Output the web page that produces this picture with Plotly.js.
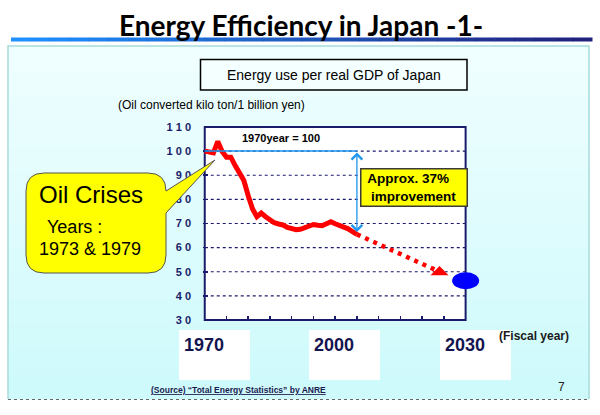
<!DOCTYPE html>
<html><head><meta charset="utf-8">
<script src="https://cdn.plot.ly/plotly-3.0.1.min.js"></script>
<style>html,body{margin:0;padding:0;background:#fff;}#chart{width:600px;height:415px;}</style>
</head><body><div id="chart"></div>
<script>
// ---------------- data ----------------
const years = [1970,1971,1972,1973,1974,1975,1976,1977,1978,1979,1980,1981,1982,1983,1984,1985,1986,1987,1988,1989,1990,1991,1992,1993,1994,1995,1996,1997,1998,1999,2000,2001,2002,2003,2004,2005];
const intensity = [100,99.6,99.3,104,99.8,97.5,97.5,94,91.2,87.8,81.5,76,72.8,74.3,72.8,71.5,70.3,69.8,69.4,68.4,67.8,67.4,67.6,68.2,68.9,69.6,69.3,69.1,69.9,70.7,69.9,69.1,68.8,67.8,66.6,65.5];
const projYears = [2005, 2024];
const projValues = [65.5, 50];
const targetYear = [2030];
const targetValue = [46.3];
const improveArrow = [100, 66.5];
const yTickVals = [30,40,50,60,70,80,90,100,110];
const yTickText = ['3 0','4 0','5 0','6 0','7 0','8 0','9 0','1 0 0','1 1 0'];
const yGridVals = [40,50,60,70,80,90,100];
const xLabelYears = [1970, 2000, 2030];
const xLabelText = ['1970','2000','2030'];

// ---------------- layout helpers ----------------
const W=600, H=415, ML=203, MR=117, MT=126, MB=94;
const PW=W-ML-MR, PH=H-MT-MB;
const PX = p => (p-ML)/PW;
const PY = p => (H-MB-p)/PH;
const P = (x,y) => PX(x)+','+PY(y);
const FONT = 'Liberation Sans, Arial, sans-serif';
const NAVY = '#1b1b6b';
const BLUE = '#1e96f0';
const X0 = years[0], X1 = targetYear[0];
const Y0 = yTickVals[0], Y1 = yTickVals[yTickVals.length-1];

const shapes = [];
// slide panel gradient
const pTop=46, pBot=399, nb=14;
for (let i=0;i<nb;i++){
  const t=i/(nb-1);
  const c=[239+(207-239)*t, 254+(250-254)*t, 254+(252-254)*t].map(Math.round);
  shapes.push({type:'rect',xref:'paper',yref:'paper',layer:'below',
    x0:PX(8),x1:PX(589),y0:PY(pTop+i*(pBot-pTop)/nb),y1:PY(pTop+(i+1)*(pBot-pTop)/nb+0.5),
    fillcolor:`rgb(${c[0]},${c[1]},${c[2]})`,line:{width:0}});
}
shapes.push({type:'path',xref:'paper',yref:'paper',layer:'below',
  path:`M ${P(8,399)} L ${P(8,46)} L ${P(589,46)} L ${P(589,399)}`,line:{color:'#a6dcdc',width:1.5}});
shapes.push({type:'line',xref:'paper',yref:'paper',layer:'below',x0:PX(8),x1:PX(590),y0:PY(399.5),y1:PY(399.5),line:{color:'#666',width:1,dash:'dot'}});
// title bar gradient
const ns=30;
for (let i=0;i<ns;i++){
  const t=i/(ns-1);
  const c=[30+(32-30)*t, 144+(32-144)*t, 255+(125-255)*t].map(Math.round);
  shapes.push({type:'rect',xref:'paper',yref:'paper',layer:'below',
    x0:PX(11+i*(581/ns)),x1:PX(11+(i+1)*(581/ns)+0.5),y0:PY(37.5),y1:PY(41.5),
    fillcolor:`rgb(${c[0]},${c[1]},${c[2]})`,line:{width:0}});
}
// subtitle box
shapes.push({type:'rect',xref:'paper',yref:'paper',layer:'below',x0:PX(200.5),x1:PX(467),y0:PY(59.5),y1:PY(90),
  fillcolor:'#f4ffff',line:{color:'#000',width:1.5}});
// plot area white + grid + frame
shapes.push({type:'rect',xref:'x',yref:'y',layer:'below',x0:X0,x1:X1,y0:Y0,y1:Y1,fillcolor:'#ffffff',line:{width:0}});
yGridVals.forEach(v=>shapes.push({type:'line',xref:'x',yref:'y',layer:'below',x0:X0,x1:X1,y0:v,y1:v,line:{color:NAVY,width:1.2,dash:'dot'}}));
shapes.push({type:'rect',xref:'x',yref:'y',layer:'below',x0:X0,x1:X1,y0:Y0,y1:Y1,line:{color:NAVY,width:2}});
// 1970 level reference line
shapes.push({type:'line',xref:'x',yref:'y',layer:'above',x0:years[0],x1:years[years.length-1],y0:intensity[0],y1:intensity[0],line:{color:BLUE,width:1.5}});
// projection arrow head
shapes.push({type:'path',xref:'x',yref:'y',layer:'above',xsizemode:'pixel',ysizemode:'pixel',
  xanchor:projYears[projYears.length-1],yanchor:projValues[projValues.length-1],
  path:'M -9,-3.6 L 9,-3.6 L 0,5.7 Z',fillcolor:'#ff0000',line:{width:0}});
// 2030 target ellipse
shapes.push({type:'circle',xref:'x',yref:'y',layer:'above',xsizemode:'pixel',ysizemode:'pixel',
  xanchor:targetYear[0],yanchor:targetValue[0],x0:-13.5,x1:13.5,y0:-8.5,y1:8.5,fillcolor:'#0000ff',line:{width:0}});
// callout
shapes.push({type:'path',xref:'paper',yref:'paper',layer:'above',
  path:`M ${P(44,173)} L ${P(148,173)} Q ${P(166,173)} ${P(166,191)} L ${P(215,160)} L ${P(166,213)} L ${P(166,255)} Q ${P(166,273)} ${P(148,273)} L ${P(44,273)} Q ${P(26,273)} ${P(26,255)} L ${P(26,191)} Q ${P(26,173)} ${P(44,173)} Z`,
  fillcolor:'#ffff00',line:{color:'#555',width:1}});

const txt = (text,x,y,size,opts={}) => Object.assign({text,x:PX(x),y:PY(y),xref:'paper',yref:'paper',showarrow:false,
  xanchor:'left',yanchor:'middle',font:{family:FONT,size,color:'#000'}},opts);

const annotations = [
  txt('Energy Efficiency in Japan -1-',300.5,24.5,28,{xanchor:'center',font:{family:'Lato, sans-serif',size:28,color:'#000',weight:'bold'}}),
  txt('Energy use per real GDP of Japan',333.5,74.5,14,{xanchor:'center'}),
  txt('(Oil converted kilo ton/1 billion yen)',116,105,12),
  txt('<b>1970year = 100</b>',240,138,11),
  txt('<b>\u00a0Approx. 37%<br>\u00a0\u00a0improvement</b>',414,187.8,13.5,{xanchor:'center',align:'left',bgcolor:'#ffff00',
     bordercolor:'#3a3a3a',borderwidth:1.5,borderpad:2,width:101,height:32}),
  txt('Oil Crises',37,194,24),
  txt('Years :',45,227,18),
  txt('1973 &amp; 1979',37,249,18),
  txt('<b><span style="text-decoration:underline">(Source) \u201cTotal Energy Statistics\u201d by ANRE</span></b>',149,390,8.5,{font:{family:FONT,size:8.5,color:'#1a1a50'}}),
  txt('7',561,387,12,{xanchor:'center',font:{family:FONT,size:12,color:'#222'}}),
  {x:years[years.length-1],y:improveArrow[1],ax:years[years.length-1],ay:improveArrow[0],xref:'x',yref:'y',axref:'x',ayref:'y',
   text:'',showarrow:true,arrowhead:4,startarrowhead:4,arrowside:'end+start',arrowsize:1.6,startarrowsize:1.6,arrowwidth:1.3,
   arrowcolor:BLUE,standoff:0,startstandoff:0}
];
xLabelYears.forEach((yr,i)=>annotations.push({text:'<b>'+xLabelText[i]+'</b>',x:yr,xref:'x',xanchor:'left',xshift:-26,
  y:PY(330),yref:'paper',yanchor:'top',showarrow:false,align:'left',valign:'top',bgcolor:'#ffffff',borderwidth:0,borderpad:5,
  width:61,height:40,font:{family:FONT,size:18,color:'#141450'}}));
annotations.push(txt('<b>(Fiscal year)</b>',497,336,12,{font:{family:FONT,size:12,color:'#1a1a1a'}}));

const traces = [
  {x:years,y:intensity,type:'scatter',mode:'lines',line:{color:'#ff0000',width:5},hoverinfo:'skip'},
  {x:projYears,y:projValues,type:'scatter',mode:'lines',line:{color:'#ff0000',width:4.5,dash:'4px,5px'},hoverinfo:'skip'}
];

const layout = {
  width:W,height:H,margin:{l:ML,r:MR,t:MT,b:MB,pad:0},
  paper_bgcolor:'#ffffff',plot_bgcolor:'rgba(0,0,0,0)',showlegend:false,
  xaxis:{range:[1969.6,2034],showgrid:false,zeroline:false,showline:false,ticks:'inside',ticklen:5,tickwidth:1.5,tickcolor:NAVY,
    tick0:1970,dtick:5,showticklabels:false,fixedrange:true},
  yaxis:{range:[29.6,110.4],tickvals:yTickVals,ticktext:yTickText,ticks:'inside',ticklen:5,tickwidth:1.5,tickcolor:NAVY,
    showgrid:false,zeroline:false,showline:false,ticklabelstandoff:11,fixedrange:true,
    tickfont:{family:FONT,size:11,color:NAVY,weight:'bold'}},
  shapes, annotations
};
Plotly.newPlot('chart',traces,layout,{displayModeBar:false,staticPlot:true});
</script></body></html>
